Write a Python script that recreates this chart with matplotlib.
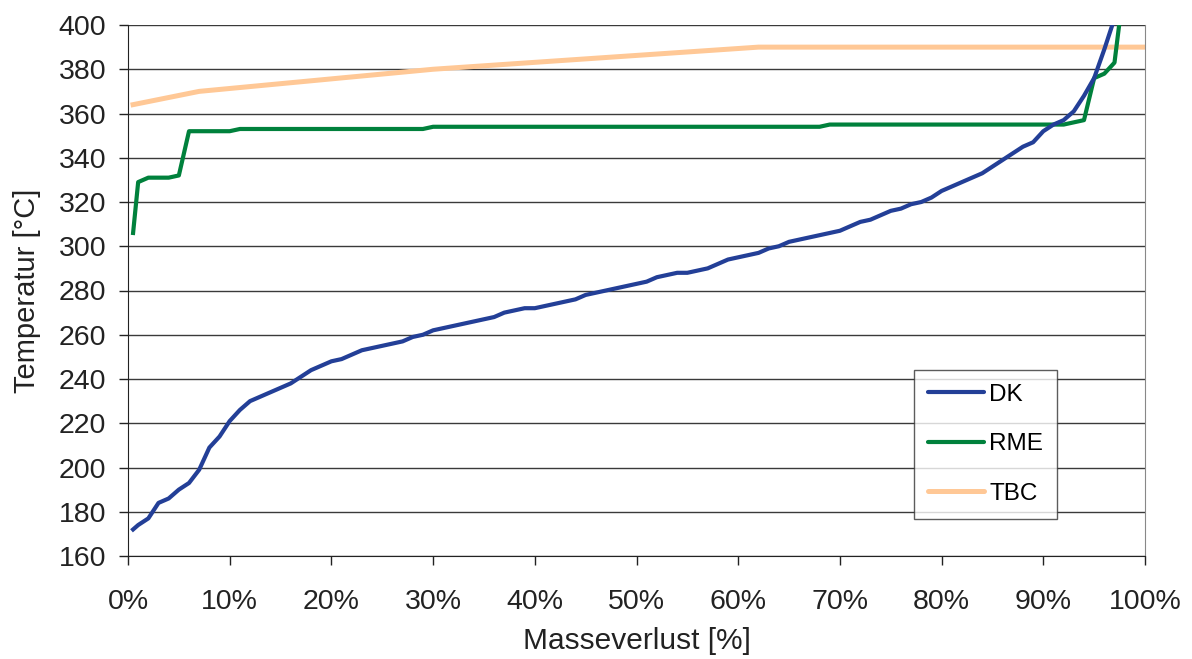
import matplotlib
matplotlib.use("Agg")
import matplotlib.pyplot as plt
from matplotlib.ticker import PercentFormatter

# Masseverlust [%] vs. Temperatur [°C]
dk_x = [0.5] + list(range(1, 98))
dk_y = [172, 174, 177, 184, 186, 190, 193, 199, 209, 214,
        221, 226, 230, 232, 234, 236, 238, 241, 244, 246,
        248, 249, 251, 253, 254, 255, 256, 257, 259, 260,
        262, 263, 264, 265, 266, 267, 268, 270, 271, 272,
        272, 273, 274, 275, 276, 278, 279, 280, 281, 282,
        283, 284, 286, 287, 288, 288, 289, 290, 292, 294,
        295, 296, 297, 299, 300, 302, 303, 304, 305, 306,
        307, 309, 311, 312, 314, 316, 317, 319, 320, 322,
        325, 327, 329, 331, 333, 336, 339, 342, 345, 347,
        352, 355, 357, 361, 368, 376, 389, 403]

rme_x = [0.5, 1, 2, 3, 4, 5, 6, 7, 8, 9, 10, 11, 29, 30, 68, 69, 92, 93, 94, 95, 96, 97, 98]
rme_y = [306, 329, 331, 331, 331, 332, 352, 352, 352, 352, 352, 353, 353, 354, 354, 355, 355, 356, 357, 376, 378, 383, 420]

tbc_x = [0.5, 7, 30, 62, 100]
tbc_y = [364, 370, 380, 390, 390]

COLOR_DK  = "#233F97"
COLOR_RME = "#00813C"
COLOR_TBC = "#FFC896"
TEXT_COLOR = "#222222"

plt.rcParams["font.family"] = ["Liberation Sans", "DejaVu Sans"]
plt.rcParams["font.size"] = 20.5

fig = plt.figure(figsize=(11.92, 6.59), dpi=100)
ax = fig.add_axes([128/1192, 1 - 556/659, (1145-128)/1192, (556-25)/659])

ax.plot(dk_x, dk_y, color=COLOR_DK, linewidth=3.0, label="DK", zorder=4, solid_joinstyle="round")
ax.plot(rme_x, rme_y, color=COLOR_RME, linewidth=3.0, label="RME", zorder=3, solid_joinstyle="round")
ax.plot(tbc_x, tbc_y, color=COLOR_TBC, linewidth=3.6, label="TBC", zorder=2, solid_joinstyle="round")

ax.set_xlim(0, 100)
ax.set_ylim(160, 400)
ax.set_xticks(range(0, 101, 10))
ax.set_yticks(range(160, 401, 20))
ax.xaxis.set_major_formatter(PercentFormatter(decimals=0))
ax.yaxis.grid(True, color="#3a3a3a", linewidth=1.0)
ax.set_axisbelow(True)

ax.spines["top"].set_visible(False)
ax.spines["right"].set_color("#888888")
ax.spines["left"].set_color(TEXT_COLOR)
ax.spines["bottom"].set_color(TEXT_COLOR)
ax.tick_params(axis="both", direction="out", length=6.5, width=1, colors=TEXT_COLOR, labelcolor=TEXT_COLOR)
ax.tick_params(axis="x", pad=17)
ax.tick_params(axis="y", pad=9)

ax.set_xlabel("Masseverlust [%]", color=TEXT_COLOR, labelpad=9, fontsize=21.5)
ax.set_ylabel("Temperatur [°C]", color=TEXT_COLOR, labelpad=13, fontsize=21)

leg = ax.legend(loc="lower right", bbox_to_anchor=((1057-128)/1017, (556-519)/531),
                frameon=True, fancybox=False, edgecolor="#333333", fontsize=17.5,
                handlelength=2.3, handletextpad=0.2, labelspacing=1.13,
                borderpad=0.58, borderaxespad=0)
leg.get_frame().set_linewidth(1.0)
for line in leg.get_lines():
    line.set_solid_capstyle("round")

fig.savefig("out.png", dpi=100)
